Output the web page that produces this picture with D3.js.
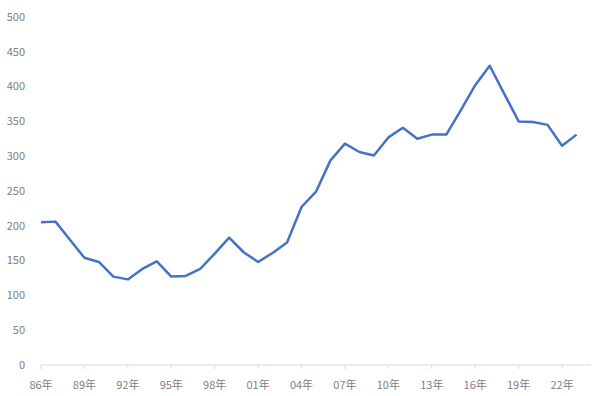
<!DOCTYPE html>
<html>
<head>
<meta charset="utf-8">
<script src="https://cdn.jsdelivr.net/npm/d3@7"></script>
<style>
  body { margin: 0; background: #fff; }
  svg { display: block; }
  .tick-label { font-family: "Noto Sans CJK JP", "Noto Sans", sans-serif; font-size: 11px; fill: #808080; }
</style>
</head>
<body>
<div id="chart"></div>
<script>
// years 1986 .. 2023
const years = d3.range(1986, 2024);
const values = [
  205, 206, 180, 154, 148, 127, 123, 138, 149, 127,
  128, 138, 160, 183, 162, 148, 161, 176, 227, 249,
  294, 318, 306, 301, 327, 341, 325, 331, 331, 366,
  402, 430, 390, 350, 349, 345, 315, 331
];
const yTicks = [0, 50, 100, 150, 200, 250, 300, 350, 400, 450, 500];
const xTickYears = d3.range(1986, 2024, 3);

const width = 600;
const height = 396;
const margin = { top: 17, right: 9, bottom: 31, left: 41 };

const svg = d3.select('#chart')
  .append('svg')
  .attr('width', width)
  .attr('height', height);

// axis runs one year past the last point, like the source chart
const x = d3.scaleLinear()
  .domain([1986, 2024])
  .range([margin.left, width - margin.right]);

const y = d3.scaleLinear()
  .domain([0, 500])
  .range([height - margin.bottom, margin.top]);

// y labels, no gridlines
svg.append('g')
  .selectAll('text')
  .data(yTicks)
  .join('text')
  .attr('class', 'tick-label')
  .attr('x', 25)
  .attr('y', d => y(d))
  .attr('dy', '0.35em')
  .attr('text-anchor', 'end')
  .text(d => d);

// x axis
const xAxis = svg.append('g');

xAxis.append('line')
  .attr('x1', x(1986))
  .attr('x2', x(2024))
  .attr('y1', y(0))
  .attr('y2', y(0))
  .attr('stroke', '#d9d9d9')
  .attr('stroke-width', 1);

xAxis.selectAll('.tick-mark')
  .data(xTickYears)
  .join('line')
  .attr('class', 'tick-mark')
  .attr('x1', d => x(d))
  .attr('x2', d => x(d))
  .attr('y1', y(0))
  .attr('y2', y(0) + 4)
  .attr('stroke', '#d9d9d9');

xAxis.selectAll('.tick-label')
  .data(xTickYears)
  .join('text')
  .attr('class', 'tick-label')
  .attr('x', d => x(d))
  .attr('y', y(0) + 20)
  .attr('dy', '0.35em')
  .attr('text-anchor', 'middle')
  .text(d => String(d % 100).padStart(2, '0') + '年');

// the line
const line = d3.line()
  .x((d, i) => x(years[i]))
  .y(d => y(d));

svg.append('path')
  .datum(values)
  .attr('fill', 'none')
  .attr('stroke', '#4472c4')
  .attr('stroke-width', 2.5)
  .attr('stroke-linejoin', 'round')
  .attr('d', line);
</script>
</body>
</html>
